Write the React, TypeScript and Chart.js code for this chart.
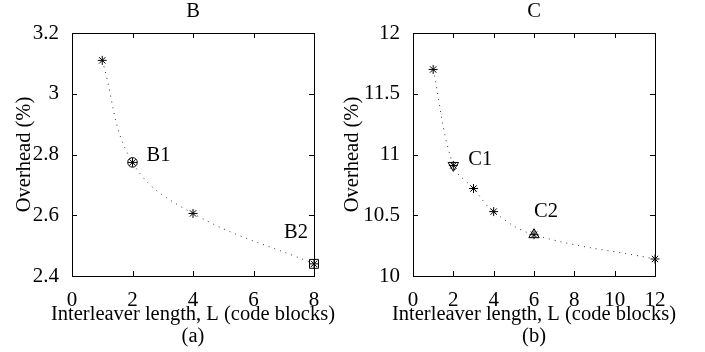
import React, { useEffect, useRef } from 'react';
import { Chart, registerables } from 'chart.js';

Chart.register(...registerables);

const FONT = '"Liberation Serif", "Times New Roman", Times, serif';

// ---- data ----
const xAxisTitle = 'Interleaver length, L (code blocks)';
const yAxisTitle = 'Overhead (%)';

const bTitle = 'B';
const bPanel = '(a)';
const bLengths = [1, 2, 4, 8];
const bOverhead = [3.11, 2.774, 2.606, 2.44];
const bXTicks = [0, 2, 4, 6, 8];
const bYTicks = [2.4, 2.6, 2.8, 3, 3.2];
const bMarkLabels = ['B1', 'B2'];
const bMarkIndex = [1, 3];

const cTitle = 'C';
const cPanel = '(b)';
const cLengths = [1, 2, 3, 4, 6, 12];
const cOverhead = [11.7, 10.91, 10.72, 10.53, 10.34, 10.14];
const cXTicks = [0, 2, 4, 6, 8, 10, 12];
const cYTicks = [10, 10.5, 11, 11.5, 12];
const cMarkLabels = ['C1', 'C2'];
const cMarkIndex = [1, 4];

// ---- styles ----
type MarkStyle = { pointStyle: string; radius: number; rotation: number; dx: number; dy: number };

const bMarkStyles: MarkStyle[] = [
  { pointStyle: 'circle', radius: 4.8, rotation: 0, dx: 26, dy: -7 },
  { pointStyle: 'rect', radius: 6.3, rotation: 0, dx: -18, dy: -31 },
];
const cMarkStyles: MarkStyle[] = [
  { pointStyle: 'triangle', radius: 6, rotation: 180, dx: 27, dy: -5.5 },
  { pointStyle: 'triangle', radius: 6, rotation: 0, dx: 12, dy: -23.5 },
];

type PanelCfg = {
  title: string;
  panel: string;
  xs: number[];
  ys: number[];
  xTicks: number[];
  yTicks: number[];
  markLabels: string[];
  markIndex: number[];
  markStyles: MarkStyle[];
  yAxisWidth: number;
  padRight: number;
  yTitlePad: number;
};

function makeChart(canvas: HTMLCanvasElement, cfg: PanelCfg) {
  const pts = cfg.xs.map((x, i) => ({ x, y: cfg.ys[i] }));
  const datasets: any[] = [
    {
      data: pts,
      showLine: true,
      borderColor: '#333',
      borderWidth: 1,
      borderDash: [1, 5],
      pointRadius: 0,
      tension: 0.4,
      clip: false,
      order: 3,
    },
    {
      data: pts,
      showLine: false,
      pointStyle: 'star',
      pointRadius: 4.5,
      borderColor: '#000',
      borderWidth: 1,
      backgroundColor: 'rgba(0,0,0,0)',
      clip: false,
      order: 2,
    },
  ];
  cfg.markIndex.forEach((idx, k) => {
    const s = cfg.markStyles[k];
    datasets.push({
      data: [pts[idx]],
      showLine: false,
      pointStyle: s.pointStyle,
      pointRadius: s.radius,
      pointRotation: s.rotation,
      borderColor: '#000',
      borderWidth: 1,
      backgroundColor: 'rgba(0,0,0,0)',
      clip: false,
      order: 1,
    });
  });

  const frame = {
    id: 'frame',
    afterDraw(chart: any) {
      const { ctx, chartArea: a, scales } = chart;
      ctx.save();
      ctx.strokeStyle = '#000';
      ctx.lineWidth = 1;
      ctx.strokeRect(a.left + 0.5, a.top + 0.5, a.right - a.left, a.bottom - a.top);
      const t = 5;
      ctx.beginPath();
      for (const v of cfg.xTicks) {
        const px = Math.round(scales.x.getPixelForValue(v)) + 0.5;
        ctx.moveTo(px, a.bottom);
        ctx.lineTo(px, a.bottom - t);
        ctx.moveTo(px, a.top);
        ctx.lineTo(px, a.top + t);
      }
      for (const v of cfg.yTicks) {
        const py = Math.round(scales.y.getPixelForValue(v)) + 0.5;
        ctx.moveTo(a.left, py);
        ctx.lineTo(a.left + t, py);
        ctx.moveTo(a.right, py);
        ctx.lineTo(a.right - t, py);
      }
      ctx.stroke();

      ctx.fillStyle = '#000';
      ctx.font = `20.5px ${FONT}`;
      ctx.textAlign = 'center';
      ctx.textBaseline = 'middle';
      const cx = (a.left + a.right) / 2;
      ctx.fillText(cfg.title, cx, 12);
      ctx.fillText(xAxisTitle, cx, 315);
      ctx.fillText(cfg.panel, cx, 337);

      cfg.markIndex.forEach((idx, k) => {
        const s = cfg.markStyles[k];
        const px = scales.x.getPixelForValue(cfg.xs[idx]);
        const py = scales.y.getPixelForValue(cfg.ys[idx]);
        ctx.fillText(cfg.markLabels[k], px + s.dx, py + s.dy);
      });
      ctx.restore();
    },
  };

  const tickFont = { family: FONT, size: 21 };

  return new Chart(canvas, {
    type: 'scatter',
    data: { datasets },
    plugins: [frame],
    options: {
      animation: false,
      responsive: false,
      devicePixelRatio: 1,
      layout: { padding: { left: 0, top: 33, right: cfg.padRight, bottom: 0 } },
      plugins: { legend: { display: false }, tooltip: { enabled: false }, title: { display: false } },
      scales: {
        x: {
          type: 'linear',
          min: cfg.xTicks[0],
          max: cfg.xTicks[cfg.xTicks.length - 1],
          grid: { display: false },
          border: { display: false },
          afterBuildTicks: (s: any) => {
            s.ticks = cfg.xTicks.map((v) => ({ value: v }));
          },
          afterFit: (s: any) => {
            s.height = 76;
          },
          ticks: {
            color: '#000',
            font: tickFont,
            padding: 4,
            maxRotation: 0,
            autoSkip: false,
            callback: (v: any) => `${v}`,
          },
        },
        y: {
          type: 'linear',
          min: cfg.yTicks[0],
          max: cfg.yTicks[cfg.yTicks.length - 1],
          grid: { display: false },
          border: { display: false },
          afterBuildTicks: (s: any) => {
            s.ticks = cfg.yTicks.map((v) => ({ value: v }));
          },
          afterFit: (s: any) => {
            s.width = cfg.yAxisWidth;
          },
          ticks: {
            color: '#000',
            font: tickFont,
            padding: 5,
            autoSkip: false,
            callback: (v: any) => `${v}`,
          },
          title: {
            display: true,
            text: yAxisTitle,
            color: '#000',
            font: { family: FONT, size: 20.5 },
            padding: { top: cfg.yTitlePad, bottom: 0 },
          },
        },
      },
    } as any,
  });
}

function Panel(props: { cfg: PanelCfg; left: number; width: number }) {
  const ref = useRef<HTMLCanvasElement>(null);
  useEffect(() => {
    if (!ref.current) return;
    const chart = makeChart(ref.current, props.cfg);
    return () => chart.destroy();
  }, []);
  return (
    <canvas
      ref={ref}
      width={props.width}
      height={352}
      style={{ position: 'absolute', left: props.left, top: 0, width: props.width, height: 352 }}
    />
  );
}

const bCfg: PanelCfg = {
  title: bTitle,
  panel: bPanel,
  xs: bLengths,
  ys: bOverhead,
  xTicks: bXTicks,
  yTicks: bYTicks,
  markLabels: bMarkLabels,
  markIndex: bMarkIndex,
  markStyles: bMarkStyles,
  yAxisWidth: 72,
  padRight: 38,
  yTitlePad: 12,
};

const cCfg: PanelCfg = {
  title: cTitle,
  panel: cPanel,
  xs: cLengths,
  ys: cOverhead,
  xTicks: cXTicks,
  yTicks: cYTicks,
  markLabels: cMarkLabels,
  markIndex: cMarkIndex,
  markStyles: cMarkStyles,
  yAxisWidth: 83,
  padRight: 50,
  yTitlePad: 10.5,
};

export default function App() {
  return (
    <div style={{ position: 'fixed', left: 0, top: 0, width: 705, height: 352, background: '#fff' }}>
      <Panel cfg={bCfg} left={0} width={352} />
      <Panel cfg={cCfg} left={330} width={375} />
    </div>
  );
}
